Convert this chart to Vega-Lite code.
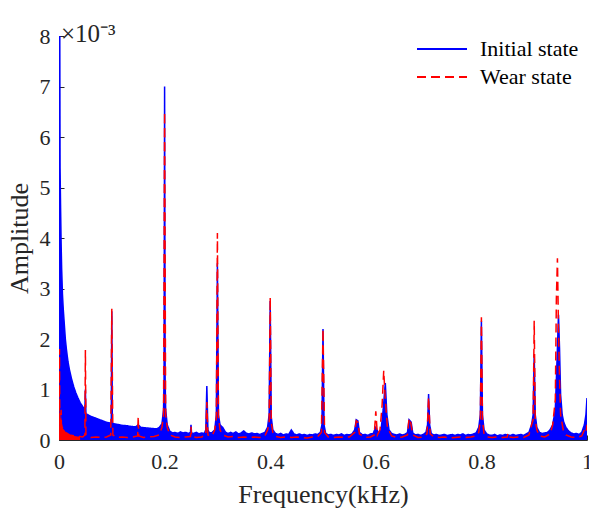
{
"$schema":"https://vega.github.io/schema/vega-lite/v6.json",
"width":528,"height":404,
"autosize":{"type":"none"},
"padding":{"left":59,"top":36,"right":2,"bottom":68},
"background":"white",
"config":{"view":{"stroke":null},"font":"Liberation Serif"},
"title":{"text":"×10⁻³","anchor":"start","frame":"group","fontSize":25,"font":"Liberation Serif","fontWeight":"normal","color":"#262626","offset":-22,"dx":2},
"datasets":{"d":[
{"s":"I","f":0,"a":8.0},{"s":"I","f":0.0015,"a":8.0},{"s":"I","f":0.002,"a":5.4},{"s":"I","f":0.003,"a":4.6},{"s":"I","f":0.004,"a":3.9},{"s":"I","f":0.005,"a":3.4},{"s":"I","f":0.0065,"a":2.9},{"s":"I","f":0.008,"a":2.6},{"s":"I","f":0.01,"a":2.3},{"s":"I","f":0.012,"a":2.0},{"s":"I","f":0.014,"a":1.8},{"s":"I","f":0.017,"a":1.55},{"s":"I","f":0.02,"a":1.38},{"s":"I","f":0.024,"a":1.2},{"s":"I","f":0.028,"a":1.05},{"s":"I","f":0.032,"a":0.93},{"s":"I","f":0.036,"a":0.83},{"s":"I","f":0.04,"a":0.74},{"s":"I","f":0.045,"a":0.66},{"s":"I","f":0.049,"a":0.6},{"s":"I","f":0.05,"a":1.0},{"s":"I","f":0.051,"a":0.52},{"s":"I","f":0.055,"a":0.5},{"s":"I","f":0.06,"a":0.47},{"s":"I","f":0.065,"a":0.45},{"s":"I","f":0.07,"a":0.43},{"s":"I","f":0.075,"a":0.41},{"s":"I","f":0.08,"a":0.39},{"s":"I","f":0.085,"a":0.37},{"s":"I","f":0.09,"a":0.35},{"s":"I","f":0.095,"a":0.34},{"s":"I","f":0.099,"a":0.33},{"s":"I","f":0.1,"a":2.55},{"s":"I","f":0.101,"a":0.33},{"s":"I","f":0.105,"a":0.32},{"s":"I","f":0.11,"a":0.31},{"s":"I","f":0.115,"a":0.3},{"s":"I","f":0.12,"a":0.29},{"s":"I","f":0.125,"a":0.285},{"s":"I","f":0.13,"a":0.28},{"s":"I","f":0.135,"a":0.27},{"s":"I","f":0.14,"a":0.265},{"s":"I","f":0.145,"a":0.26},{"s":"I","f":0.15,"a":0.3},{"s":"I","f":0.155,"a":0.25},{"s":"I","f":0.16,"a":0.245},{"s":"I","f":0.165,"a":0.24},{"s":"I","f":0.17,"a":0.235},{"s":"I","f":0.175,"a":0.23},{"s":"I","f":0.18,"a":0.225},{"s":"I","f":0.185,"a":0.22},{"s":"I","f":0.19,"a":0.25},{"s":"I","f":0.195,"a":0.32},{"s":"I","f":0.198,"a":0.6},{"s":"I","f":0.199,"a":1.2},{"s":"I","f":0.2,"a":7.0},{"s":"I","f":0.201,"a":1.2},{"s":"I","f":0.202,"a":0.6},{"s":"I","f":0.205,"a":0.3},{"s":"I","f":0.21,"a":0.17},{"s":"I","f":0.215,"a":0.14},{"s":"I","f":0.22,"a":0.15},{"s":"I","f":0.225,"a":0.13},{"s":"I","f":0.23,"a":0.16},{"s":"I","f":0.235,"a":0.14},{"s":"I","f":0.24,"a":0.15},{"s":"I","f":0.245,"a":0.13},{"s":"I","f":0.249,"a":0.15},{"s":"I","f":0.25,"a":0.3},{"s":"I","f":0.251,"a":0.14},{"s":"I","f":0.255,"a":0.13},{"s":"I","f":0.26,"a":0.15},{"s":"I","f":0.265,"a":0.12},{"s":"I","f":0.27,"a":0.14},{"s":"I","f":0.275,"a":0.13},{"s":"I","f":0.278,"a":0.2},{"s":"I","f":0.28,"a":1.07},{"s":"I","f":0.282,"a":0.2},{"s":"I","f":0.285,"a":0.14},{"s":"I","f":0.29,"a":0.15},{"s":"I","f":0.295,"a":0.2},{"s":"I","f":0.298,"a":0.5},{"s":"I","f":0.3,"a":3.5},{"s":"I","f":0.302,"a":0.5},{"s":"I","f":0.305,"a":0.3},{"s":"I","f":0.31,"a":0.25},{"s":"I","f":0.315,"a":0.16},{"s":"I","f":0.32,"a":0.13},{"s":"I","f":0.325,"a":0.15},{"s":"I","f":0.33,"a":0.13},{"s":"I","f":0.335,"a":0.16},{"s":"I","f":0.34,"a":0.12},{"s":"I","f":0.345,"a":0.14},{"s":"I","f":0.35,"a":0.18},{"s":"I","f":0.355,"a":0.13},{"s":"I","f":0.36,"a":0.12},{"s":"I","f":0.365,"a":0.14},{"s":"I","f":0.37,"a":0.12},{"s":"I","f":0.375,"a":0.13},{"s":"I","f":0.38,"a":0.11},{"s":"I","f":0.385,"a":0.13},{"s":"I","f":0.39,"a":0.15},{"s":"I","f":0.395,"a":0.25},{"s":"I","f":0.398,"a":0.5},{"s":"I","f":0.4,"a":2.75},{"s":"I","f":0.402,"a":0.45},{"s":"I","f":0.405,"a":0.2},{"s":"I","f":0.41,"a":0.13},{"s":"I","f":0.415,"a":0.11},{"s":"I","f":0.42,"a":0.13},{"s":"I","f":0.425,"a":0.1},{"s":"I","f":0.43,"a":0.12},{"s":"I","f":0.435,"a":0.11},{"s":"I","f":0.44,"a":0.2},{"s":"I","f":0.445,"a":0.12},{"s":"I","f":0.45,"a":0.1},{"s":"I","f":0.455,"a":0.12},{"s":"I","f":0.46,"a":0.1},{"s":"I","f":0.465,"a":0.11},{"s":"I","f":0.47,"a":0.09},{"s":"I","f":0.475,"a":0.11},{"s":"I","f":0.48,"a":0.1},{"s":"I","f":0.485,"a":0.12},{"s":"I","f":0.49,"a":0.11},{"s":"I","f":0.495,"a":0.15},{"s":"I","f":0.498,"a":0.3},{"s":"I","f":0.5,"a":2.2},{"s":"I","f":0.502,"a":0.3},{"s":"I","f":0.505,"a":0.13},{"s":"I","f":0.51,"a":0.1},{"s":"I","f":0.515,"a":0.11},{"s":"I","f":0.52,"a":0.09},{"s":"I","f":0.525,"a":0.11},{"s":"I","f":0.53,"a":0.1},{"s":"I","f":0.535,"a":0.12},{"s":"I","f":0.54,"a":0.09},{"s":"I","f":0.545,"a":0.11},{"s":"I","f":0.55,"a":0.1},{"s":"I","f":0.555,"a":0.12},{"s":"I","f":0.56,"a":0.2},{"s":"I","f":0.563,"a":0.4},{"s":"I","f":0.566,"a":0.38},{"s":"I","f":0.569,"a":0.15},{"s":"I","f":0.575,"a":0.1},{"s":"I","f":0.58,"a":0.11},{"s":"I","f":0.585,"a":0.09},{"s":"I","f":0.59,"a":0.12},{"s":"I","f":0.595,"a":0.13},{"s":"I","f":0.6,"a":0.25},{"s":"I","f":0.605,"a":0.14},{"s":"I","f":0.61,"a":0.2},{"s":"I","f":0.614,"a":0.6},{"s":"I","f":0.618,"a":1.13},{"s":"I","f":0.621,"a":0.5},{"s":"I","f":0.625,"a":0.2},{"s":"I","f":0.63,"a":0.13},{"s":"I","f":0.635,"a":0.11},{"s":"I","f":0.64,"a":0.1},{"s":"I","f":0.645,"a":0.12},{"s":"I","f":0.65,"a":0.1},{"s":"I","f":0.655,"a":0.11},{"s":"I","f":0.66,"a":0.15},{"s":"I","f":0.663,"a":0.4},{"s":"I","f":0.667,"a":0.35},{"s":"I","f":0.67,"a":0.14},{"s":"I","f":0.675,"a":0.1},{"s":"I","f":0.68,"a":0.11},{"s":"I","f":0.685,"a":0.09},{"s":"I","f":0.69,"a":0.11},{"s":"I","f":0.695,"a":0.15},{"s":"I","f":0.698,"a":0.3},{"s":"I","f":0.7,"a":0.91},{"s":"I","f":0.702,"a":0.3},{"s":"I","f":0.705,"a":0.13},{"s":"I","f":0.71,"a":0.1},{"s":"I","f":0.715,"a":0.11},{"s":"I","f":0.72,"a":0.09},{"s":"I","f":0.725,"a":0.1},{"s":"I","f":0.73,"a":0.11},{"s":"I","f":0.735,"a":0.09},{"s":"I","f":0.74,"a":0.1},{"s":"I","f":0.745,"a":0.11},{"s":"I","f":0.75,"a":0.09},{"s":"I","f":0.755,"a":0.11},{"s":"I","f":0.76,"a":0.1},{"s":"I","f":0.765,"a":0.12},{"s":"I","f":0.77,"a":0.09},{"s":"I","f":0.775,"a":0.11},{"s":"I","f":0.78,"a":0.1},{"s":"I","f":0.785,"a":0.12},{"s":"I","f":0.79,"a":0.14},{"s":"I","f":0.795,"a":0.25},{"s":"I","f":0.798,"a":0.5},{"s":"I","f":0.8,"a":2.35},{"s":"I","f":0.802,"a":0.5},{"s":"I","f":0.805,"a":0.2},{"s":"I","f":0.81,"a":0.12},{"s":"I","f":0.815,"a":0.1},{"s":"I","f":0.82,"a":0.09},{"s":"I","f":0.825,"a":0.11},{"s":"I","f":0.83,"a":0.08},{"s":"I","f":0.835,"a":0.1},{"s":"I","f":0.84,"a":0.09},{"s":"I","f":0.845,"a":0.11},{"s":"I","f":0.85,"a":0.1},{"s":"I","f":0.855,"a":0.09},{"s":"I","f":0.86,"a":0.11},{"s":"I","f":0.865,"a":0.09},{"s":"I","f":0.87,"a":0.1},{"s":"I","f":0.875,"a":0.11},{"s":"I","f":0.88,"a":0.09},{"s":"I","f":0.885,"a":0.12},{"s":"I","f":0.89,"a":0.15},{"s":"I","f":0.895,"a":0.3},{"s":"I","f":0.898,"a":0.5},{"s":"I","f":0.9,"a":1.7},{"s":"I","f":0.902,"a":0.5},{"s":"I","f":0.905,"a":0.25},{"s":"I","f":0.91,"a":0.15},{"s":"I","f":0.915,"a":0.13},{"s":"I","f":0.92,"a":0.14},{"s":"I","f":0.925,"a":0.15},{"s":"I","f":0.93,"a":0.2},{"s":"I","f":0.935,"a":0.3},{"s":"I","f":0.94,"a":0.6},{"s":"I","f":0.943,"a":1.5},{"s":"I","f":0.946,"a":2.48},{"s":"I","f":0.948,"a":1.8},{"s":"I","f":0.95,"a":0.9},{"s":"I","f":0.953,"a":0.5},{"s":"I","f":0.956,"a":0.35},{"s":"I","f":0.96,"a":0.25},{"s":"I","f":0.965,"a":0.18},{"s":"I","f":0.97,"a":0.14},{"s":"I","f":0.975,"a":0.12},{"s":"I","f":0.98,"a":0.13},{"s":"I","f":0.985,"a":0.11},{"s":"I","f":0.99,"a":0.15},{"s":"I","f":0.995,"a":0.3},{"s":"I","f":0.998,"a":0.5},{"s":"I","f":1.0,"a":0.83},
{"s":"W","f":0,"a":0.3},{"s":"W","f":0.001,"a":1.8},{"s":"W","f":0.0015,"a":0.3},{"s":"W","f":0.002,"a":0.25},{"s":"W","f":0.003,"a":0.35},{"s":"W","f":0.004,"a":0.6},{"s":"W","f":0.0045,"a":0.3},{"s":"W","f":0.005,"a":0.3},{"s":"W","f":0.006,"a":0.25},{"s":"W","f":0.008,"a":0.22},{"s":"W","f":0.01,"a":0.2},{"s":"W","f":0.012,"a":0.17},{"s":"W","f":0.014,"a":0.14},{"s":"W","f":0.017,"a":0.12},{"s":"W","f":0.02,"a":0.1},{"s":"W","f":0.025,"a":0.09},{"s":"W","f":0.03,"a":0.08},{"s":"W","f":0.035,"a":0.07},{"s":"W","f":0.04,"a":0.07},{"s":"W","f":0.045,"a":0.06},{"s":"W","f":0.049,"a":0.1},{"s":"W","f":0.05,"a":1.78},{"s":"W","f":0.051,"a":0.1},{"s":"W","f":0.055,"a":0.06},{"s":"W","f":0.06,"a":0.05},{"s":"W","f":0.07,"a":0.06},{"s":"W","f":0.08,"a":0.05},{"s":"W","f":0.09,"a":0.06},{"s":"W","f":0.098,"a":0.1},{"s":"W","f":0.1,"a":2.6},{"s":"W","f":0.102,"a":0.1},{"s":"W","f":0.11,"a":0.05},{"s":"W","f":0.12,"a":0.06},{"s":"W","f":0.13,"a":0.05},{"s":"W","f":0.14,"a":0.06},{"s":"W","f":0.149,"a":0.08},{"s":"W","f":0.15,"a":0.47},{"s":"W","f":0.151,"a":0.08},{"s":"W","f":0.16,"a":0.05},{"s":"W","f":0.17,"a":0.06},{"s":"W","f":0.18,"a":0.07},{"s":"W","f":0.19,"a":0.1},{"s":"W","f":0.195,"a":0.25},{"s":"W","f":0.198,"a":0.5},{"s":"W","f":0.2,"a":6.5},{"s":"W","f":0.202,"a":0.5},{"s":"W","f":0.205,"a":0.25},{"s":"W","f":0.21,"a":0.1},{"s":"W","f":0.22,"a":0.06},{"s":"W","f":0.23,"a":0.05},{"s":"W","f":0.24,"a":0.06},{"s":"W","f":0.249,"a":0.07},{"s":"W","f":0.25,"a":0.26},{"s":"W","f":0.251,"a":0.07},{"s":"W","f":0.26,"a":0.05},{"s":"W","f":0.27,"a":0.06},{"s":"W","f":0.278,"a":0.1},{"s":"W","f":0.28,"a":0.75},{"s":"W","f":0.282,"a":0.1},{"s":"W","f":0.29,"a":0.08},{"s":"W","f":0.295,"a":0.2},{"s":"W","f":0.298,"a":0.45},{"s":"W","f":0.3,"a":4.1},{"s":"W","f":0.302,"a":0.45},{"s":"W","f":0.305,"a":0.2},{"s":"W","f":0.31,"a":0.1},{"s":"W","f":0.32,"a":0.06},{"s":"W","f":0.33,"a":0.07},{"s":"W","f":0.34,"a":0.05},{"s":"W","f":0.35,"a":0.06},{"s":"W","f":0.36,"a":0.05},{"s":"W","f":0.37,"a":0.06},{"s":"W","f":0.38,"a":0.05},{"s":"W","f":0.39,"a":0.08},{"s":"W","f":0.395,"a":0.2},{"s":"W","f":0.398,"a":0.35},{"s":"W","f":0.4,"a":2.83},{"s":"W","f":0.402,"a":0.35},{"s":"W","f":0.405,"a":0.15},{"s":"W","f":0.41,"a":0.07},{"s":"W","f":0.42,"a":0.05},{"s":"W","f":0.43,"a":0.06},{"s":"W","f":0.44,"a":0.05},{"s":"W","f":0.45,"a":0.06},{"s":"W","f":0.46,"a":0.05},{"s":"W","f":0.47,"a":0.04},{"s":"W","f":0.48,"a":0.06},{"s":"W","f":0.49,"a":0.07},{"s":"W","f":0.497,"a":0.15},{"s":"W","f":0.5,"a":2.2},{"s":"W","f":0.503,"a":0.15},{"s":"W","f":0.51,"a":0.06},{"s":"W","f":0.52,"a":0.05},{"s":"W","f":0.53,"a":0.06},{"s":"W","f":0.54,"a":0.05},{"s":"W","f":0.55,"a":0.06},{"s":"W","f":0.56,"a":0.15},{"s":"W","f":0.563,"a":0.38},{"s":"W","f":0.566,"a":0.35},{"s":"W","f":0.569,"a":0.12},{"s":"W","f":0.58,"a":0.05},{"s":"W","f":0.59,"a":0.06},{"s":"W","f":0.597,"a":0.1},{"s":"W","f":0.6,"a":0.57},{"s":"W","f":0.603,"a":0.1},{"s":"W","f":0.608,"a":0.2},{"s":"W","f":0.612,"a":0.7},{"s":"W","f":0.615,"a":1.37},{"s":"W","f":0.618,"a":0.8},{"s":"W","f":0.622,"a":0.25},{"s":"W","f":0.63,"a":0.08},{"s":"W","f":0.64,"a":0.05},{"s":"W","f":0.65,"a":0.06},{"s":"W","f":0.66,"a":0.1},{"s":"W","f":0.663,"a":0.43},{"s":"W","f":0.666,"a":0.35},{"s":"W","f":0.67,"a":0.1},{"s":"W","f":0.68,"a":0.05},{"s":"W","f":0.69,"a":0.06},{"s":"W","f":0.697,"a":0.12},{"s":"W","f":0.7,"a":0.85},{"s":"W","f":0.703,"a":0.12},{"s":"W","f":0.71,"a":0.06},{"s":"W","f":0.72,"a":0.05},{"s":"W","f":0.73,"a":0.06},{"s":"W","f":0.74,"a":0.04},{"s":"W","f":0.75,"a":0.05},{"s":"W","f":0.76,"a":0.06},{"s":"W","f":0.77,"a":0.05},{"s":"W","f":0.78,"a":0.06},{"s":"W","f":0.79,"a":0.08},{"s":"W","f":0.795,"a":0.15},{"s":"W","f":0.798,"a":0.4},{"s":"W","f":0.8,"a":2.43},{"s":"W","f":0.802,"a":0.4},{"s":"W","f":0.805,"a":0.12},{"s":"W","f":0.81,"a":0.06},{"s":"W","f":0.82,"a":0.05},{"s":"W","f":0.83,"a":0.06},{"s":"W","f":0.84,"a":0.05},{"s":"W","f":0.849,"a":0.06},{"s":"W","f":0.85,"a":0.13},{"s":"W","f":0.851,"a":0.06},{"s":"W","f":0.86,"a":0.05},{"s":"W","f":0.87,"a":0.06},{"s":"W","f":0.88,"a":0.05},{"s":"W","f":0.89,"a":0.1},{"s":"W","f":0.895,"a":0.3},{"s":"W","f":0.898,"a":0.4},{"s":"W","f":0.9,"a":2.36},{"s":"W","f":0.902,"a":0.4},{"s":"W","f":0.905,"a":0.2},{"s":"W","f":0.91,"a":0.08},{"s":"W","f":0.92,"a":0.06},{"s":"W","f":0.93,"a":0.12},{"s":"W","f":0.935,"a":0.3},{"s":"W","f":0.94,"a":0.8},{"s":"W","f":0.942,"a":2.8},{"s":"W","f":0.944,"a":3.6},{"s":"W","f":0.946,"a":2.2},{"s":"W","f":0.948,"a":1.2},{"s":"W","f":0.95,"a":0.5},{"s":"W","f":0.955,"a":0.2},{"s":"W","f":0.96,"a":0.1},{"s":"W","f":0.97,"a":0.06},{"s":"W","f":0.98,"a":0.05},{"s":"W","f":0.99,"a":0.08},{"s":"W","f":0.995,"a":0.2},{"s":"W","f":0.998,"a":0.15},{"s":"W","f":1.0,"a":0.3}
]},
"data":{"name":"d"},
"encoding":{
"x":{"field":"f","type":"quantitative","scale":{"domain":[0,1],"nice":false,"zero":false},
"axis":{"title":"Frequency(kHz)","values":[0,0.2,0.4,0.6,0.8,1],"format":"~g","grid":false,"domainColor":"#262626","tickColor":"#262626","tickSize":-5,"labelPadding":16,"labelFont":"Liberation Serif","labelFontSize":22,"labelColor":"#262626","titleFont":"Liberation Serif","titleFontSize":26,"titleFontWeight":"normal","titleColor":"#262626","titlePadding":9,"labelFlush":false}},
"y":{"field":"a","type":"quantitative","scale":{"domain":[0,8],"nice":false},
"axis":{"title":"Amplitude","values":[0,1,2,3,4,5,6,7,8],"format":"d","grid":false,"domainColor":"#262626","tickColor":"#262626","tickSize":-5,"labelPadding":14,"labelFont":"Liberation Serif","labelFontSize":22,"labelColor":"#262626","titleFont":"Liberation Serif","titleFontSize":26,"titleFontWeight":"normal","titleColor":"#262626","titlePadding":7,"labelFlush":false}}
},
"layer":[
{"transform":[{"filter":"datum.s=='I'"}],"mark":{"type":"area","color":"#0000ff","opacity":1,"clip":true}},
{"transform":[{"filter":"datum.s=='I'"}],"mark":{"type":"line","strokeWidth":1.5,"clip":true},
"encoding":{"color":{"field":"s","type":"nominal","scale":{"domain":["I","W"],"range":["#0000ff","#ff0000"]},
"legend":{"orient":"none","legendX":357,"legendY":0,"title":null,"symbolType":"stroke","symbolSize":2500,"symbolStrokeWidth":2,"labelFontSize":22,"labelFont":"Liberation Serif","labelColor":"#000000","labelOffset":12,"clipHeight":26,"labelExpr":"datum.label=='I'?'Initial state':'Wear state'"}},
"strokeDash":{"field":"s","type":"nominal","scale":{"domain":["I","W"],"range":[[1,0],[9,5]]},"legend":{"orient":"none","legendX":357,"legendY":0,"title":null,"symbolType":"stroke","symbolSize":2500,"symbolStrokeWidth":2,"labelFontSize":22,"labelFont":"Liberation Serif","labelColor":"#000000","labelOffset":12,"clipHeight":26,"labelExpr":"datum.label=='I'?'Initial state':'Wear state'"}}}},
{"transform":[{"filter":"datum.s=='W' && datum.f<0.045"}],"mark":{"type":"area","color":"#ff0000","opacity":1,"clip":true}},
{"transform":[{"filter":"datum.s=='W'"}],"mark":{"type":"line","strokeWidth":1.5,"clip":true},
"encoding":{"color":{"field":"s","type":"nominal"},"strokeDash":{"field":"s","type":"nominal"}}}
]
}
